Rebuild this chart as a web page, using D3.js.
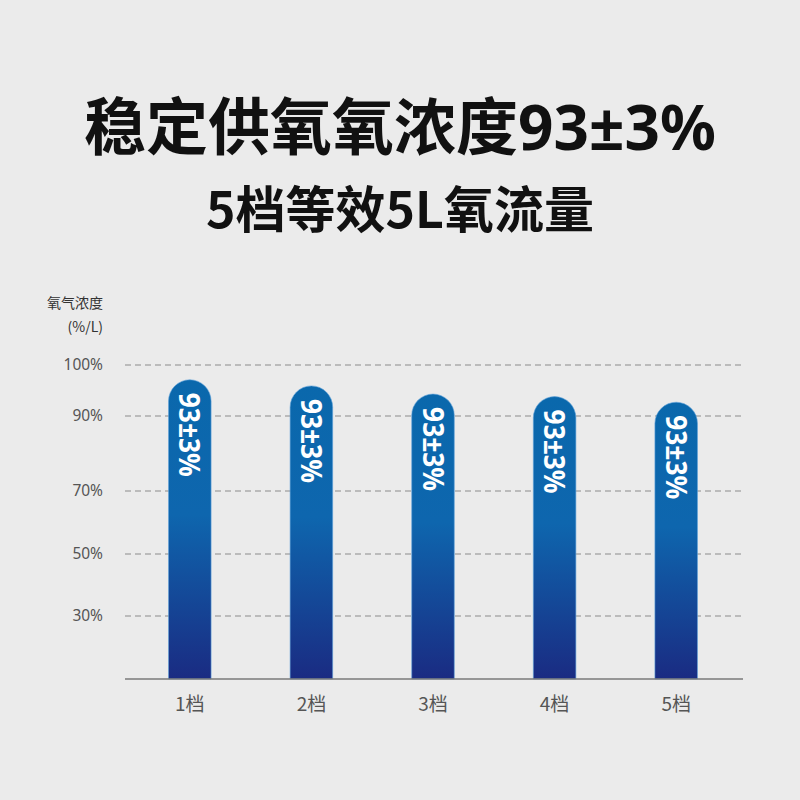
<!DOCTYPE html>
<html>
<head>
<meta charset="utf-8">
<script src="https://cdn.jsdelivr.net/npm/d3@7"></script>
<style>
  html, body { margin: 0; padding: 0; background: #ebebeb; }
  svg { display: block; }
</style>
</head>
<body>
<div id="chart"></div>
<script>
// data
var levels = ["1档", "2档", "3档", "4档", "5档"];
var oxygen = [97.1, 95.9, 94.3, 93.8, 92.7];
var barLabel = "93±3%";
var yTicks = [100, 90, 70, 50, 30];

var W = 800, H = 800;

var svg = d3.select("#chart").append("svg")
  .attr("width", W).attr("height", H);

svg.append("rect").attr("width", W).attr("height", H).attr("fill", "#ebebeb");

// gradient for the bars
var defs = svg.append("defs");
var grad = defs.append("linearGradient").attr("id", "barGrad")
  .attr("x1", 0).attr("y1", 0).attr("x2", 0).attr("y2", 1);
grad.append("stop").attr("offset", "0%").attr("stop-color", "#0a68ac");
grad.append("stop").attr("offset", "45%").attr("stop-color", "#0e66ae");
grad.append("stop").attr("offset", "100%").attr("stop-color", "#1a2b82");

// titles (digits in a latin font so the ± is not full width)
var t1 = svg.append("text")
  .attr("x", W / 2).attr("y", 150)
  .attr("text-anchor", "middle")
  .attr("font-family", "'Noto Sans CJK SC', 'Noto Sans', sans-serif")
  .attr("font-weight", 700).attr("font-size", 62)
  .attr("fill", "#111");
t1.append("tspan").text("稳定供氧氧浓度");
t1.append("tspan").attr("font-family", "'Noto Sans', sans-serif").text("93±3%");

svg.append("text")
  .attr("x", W / 2).attr("y", 228)
  .attr("text-anchor", "middle")
  .attr("font-family", "'Noto Sans CJK SC', 'Noto Sans', sans-serif")
  .attr("font-weight", 700).attr("font-size", 50)
  .attr("fill", "#111")
  .text("5档等效5L氧流量");

// scales: the y axis in the picture is not evenly spaced, so piecewise
var y = d3.scaleLinear()
  .domain([0, 30, 50, 70, 90, 100])
  .range([679, 616, 554, 491, 416, 365]);

var x = d3.scaleBand()
  .domain(levels)
  .range([129, 737])
  .paddingInner(0.65)
  .paddingOuter(0.325);

var left = 125, right = 743;

// gridlines
svg.append("g").selectAll("line")
  .data(yTicks)
  .join("line")
  .attr("x1", left).attr("x2", right)
  .attr("y1", function (d) { return y(d); })
  .attr("y2", function (d) { return y(d); })
  .attr("stroke", "#8c8c8c")
  .attr("stroke-width", 1.2)
  .attr("stroke-dasharray", "6,4");

// y tick labels
svg.append("g").selectAll("text")
  .data(yTicks)
  .join("text")
  .attr("x", 103)
  .attr("y", function (d) { return y(d); })
  .attr("dy", "0.35em")
  .attr("text-anchor", "end")
  .attr("font-family", "'Noto Sans', sans-serif")
  .attr("font-size", 15.5)
  .attr("fill", "#555")
  .text(function (d) { return d + "%"; });

// y axis title
var yt = svg.append("text")
  .attr("text-anchor", "end")
  .attr("font-family", "'Noto Sans CJK SC', sans-serif")
  .attr("font-size", 14)
  .attr("fill", "#333");
yt.append("tspan").attr("x", 103).attr("y", 308).text("氧气浓度");
yt.append("tspan").attr("x", 103).attr("y", 332).text("(%/L)");

// bars with rounded top
var bw = x.bandwidth(), r = bw / 2;
function barPath(d, i) {
  var x0 = x(levels[i]), top = y(d), bot = y(0);
  return "M" + x0 + "," + bot +
    "V" + (top + r) +
    "A" + r + "," + r + " 0 0 1 " + (x0 + bw) + "," + (top + r) +
    "V" + bot + "Z";
}

svg.append("g").selectAll("path")
  .data(oxygen)
  .join("path")
  .attr("d", barPath)
  .attr("fill", "url(#barGrad)")
  .attr("stroke", "#5fa2da")
  .attr("stroke-opacity", 0.6)
  .attr("stroke-width", 1);

// vertical labels inside the bars
svg.append("g").selectAll("text")
  .data(oxygen)
  .join("text")
  .attr("transform", function (d, i) {
    return "translate(" + (x(levels[i]) + r) + "," + (y(d) + 13) + ") rotate(90)";
  })
  .attr("dy", "0.36em")
  .attr("text-anchor", "start")
  .attr("font-family", "'Noto Sans', sans-serif")
  .attr("font-weight", 700)
  .attr("font-size", 29)
  .attr("textLength", 84)
  .attr("lengthAdjust", "spacingAndGlyphs")
  .attr("fill", "#fff")
  .text(barLabel);

// baseline
svg.append("line")
  .attr("x1", left).attr("x2", right)
  .attr("y1", y(0)).attr("y2", y(0))
  .attr("stroke", "#7a7a7a")
  .attr("stroke-width", 1.5);

// x labels
svg.append("g").selectAll("text")
  .data(levels)
  .join("text")
  .attr("x", function (d) { return x(d) + r; })
  .attr("y", 711)
  .attr("text-anchor", "middle")
  .attr("font-family", "'Noto Sans CJK SC', sans-serif")
  .attr("font-size", 19)
  .attr("fill", "#555")
  .text(function (d) { return d; });
</script>
</body>
</html>
